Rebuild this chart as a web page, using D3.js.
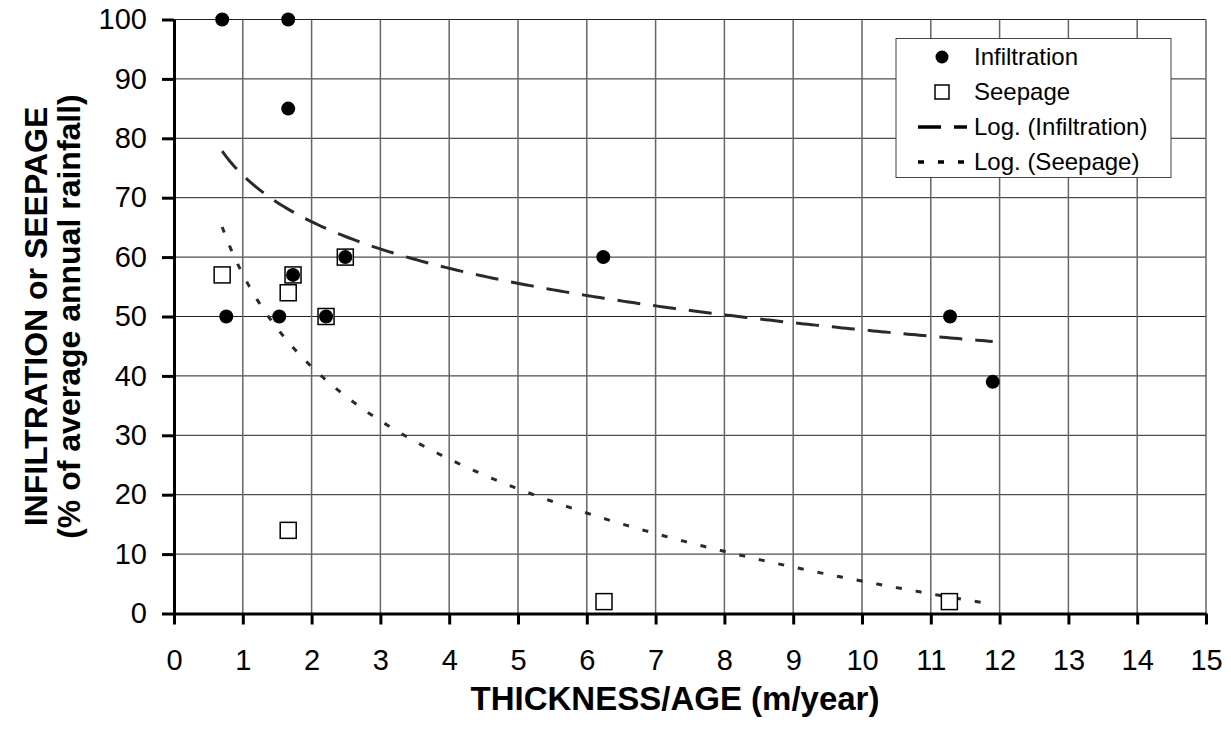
<!DOCTYPE html>
<html>
<head>
<meta charset="utf-8">
<script src="https://cdn.jsdelivr.net/npm/d3@7"></script>
<style>
  body { margin: 0; background: #fff; }
  svg { display: block; font-family: "Liberation Sans", Arial, sans-serif; }
</style>
</head>
<body>
<svg id="chart" width="1231" height="729"></svg>
<script>
const width = 1231, height = 729;
const margin = {top: 19, right: 25, bottom: 116, left: 174};

// Infiltration points
const infX = [0.7, 1.66, 1.66, 0.76, 1.53, 1.73, 2.21, 2.49, 6.24, 11.28, 11.9];
const infY = [100, 100, 85, 50, 50, 57, 50, 60, 60, 50, 39];
// Seepage points
const seepX = [0.7, 1.66, 1.73, 2.21, 2.49, 1.66, 6.25, 11.27];
const seepY = [57, 54, 57, 50, 60, 14, 2, 2];

const xTicks = d3.range(0, 16, 1);
const yTicks = d3.range(0, 101, 10);
const legendLabels = ["Infiltration", "Seepage", "Log. (Infiltration)", "Log. (Seepage)"];

const svg = d3.select("#chart");

const x = d3.scaleLinear().domain([0, 15]).range([margin.left, width - margin.right]);
const y = d3.scaleLinear().domain([0, 100]).range([height - margin.bottom + 0.5, margin.top + 0.5]);

// least squares fit of y = a*ln(x) + b, like Excel's log trendline
function logFit(xs, ys) {
    const L = xs.map(Math.log);
    const lm = d3.mean(L), ym = d3.mean(ys);
    let sxy = 0, sxx = 0;
    L.forEach((l, i) => { sxy += (l - lm) * (ys[i] - ym); sxx += (l - lm) * (l - lm); });
    const a = sxy / sxx;
    return {a: a, b: ym - a * lm};
}

// gridlines
svg.append("g").selectAll("line")
    .data(yTicks.filter(d => d > 0))
    .enter().append("line")
    .attr("x1", x(0)).attr("x2", x(15))
    .attr("y1", d => y(d)).attr("y2", d => y(d))
    .attr("stroke", "#222").attr("stroke-width", 1);

svg.append("g").selectAll("line")
    .data(xTicks.filter(d => d > 0))
    .enter().append("line")
    .attr("x1", d => x(d)).attr("x2", d => x(d))
    .attr("y1", y(0)).attr("y2", y(100))
    .attr("stroke", "#666").attr("stroke-width", 1.5);

// trendlines
const ext = d3.extent(infX.concat(seepX));
const line = d3.line().x(d => x(d[0])).y(d => y(d[1]));

function trend(xs, ys, dash, w) {
    const f = logFit(xs, ys);
    const pts = d3.range(0, 201).map(i => {
        const v = ext[0] + (ext[1] - ext[0]) * i / 200;
        return [v, f.a * Math.log(v) + f.b];
    });
    svg.append("path")
        .attr("d", line(pts))
        .attr("fill", "none")
        .attr("stroke", "#2a2a2a")
        .attr("stroke-width", w)
        .attr("stroke-dasharray", dash);
}
trend(infX, infY, "23,13", 3);
trend(seepX, seepY, "6,14", 3);

// axes
const xAxis = svg.append("g")
    .attr("transform", `translate(0,${y(0)})`)
    .call(d3.axisBottom(x).tickValues(xTicks).tickSizeInner(11).tickSizeOuter(0).tickPadding(25).tickFormat(d3.format("d")));
const yAxis = svg.append("g")
    .attr("transform", `translate(${x(0)},0)`)
    .call(d3.axisLeft(y).tickValues(yTicks).tickSizeInner(12).tickSizeOuter(0).tickPadding(15).tickFormat(d3.format("d")));

[xAxis, yAxis].forEach(g => {
    g.select(".domain").attr("stroke", "#000").attr("stroke-width", 3);
    g.selectAll(".tick line").attr("stroke", "#000").attr("stroke-width", 3);
    g.selectAll(".tick text")
        .attr("fill", "#000")
        .style("font-size", "29px")
        .style("font-family", "'Liberation Sans', Arial, sans-serif");
});

// seepage squares
const sq = 16;
svg.append("g").selectAll("rect")
    .data(seepX.map((v, i) => [v, seepY[i]]))
    .enter().append("rect")
    .attr("x", d => x(d[0]) - sq / 2)
    .attr("y", d => y(d[1]) - sq / 2)
    .attr("width", sq).attr("height", sq)
    .attr("fill", "#fff")
    .attr("stroke", "#000")
    .attr("stroke-width", 1.5);

// infiltration dots
svg.append("g").selectAll("circle")
    .data(infX.map((v, i) => [v, infY[i]]))
    .enter().append("circle")
    .attr("cx", d => x(d[0]))
    .attr("cy", d => y(d[1]))
    .attr("r", 7)
    .attr("fill", "#000");

// axis titles
svg.append("text")
    .attr("x", 675)
    .attr("y", 710)
    .attr("text-anchor", "middle")
    .style("font-size", "33px")
    .style("font-weight", "bold")
    .text("THICKNESS/AGE (m/year)");

const yMid = (y(0) + y(100)) / 2;
svg.append("text")
    .attr("transform", `translate(47,${yMid}) rotate(-90)`)
    .attr("text-anchor", "middle")
    .style("font-size", "32px")
    .style("font-weight", "bold")
    .text("INFILTRATION or SEEPAGE");
svg.append("text")
    .attr("transform", `translate(80,${yMid}) rotate(-90)`)
    .attr("text-anchor", "middle")
    .style("font-size", "32px")
    .style("font-weight", "bold")
    .text("(% of average annual rainfall)");

// legend
const lg = svg.append("g");
lg.append("rect")
    .attr("x", 896).attr("y", 38.5)
    .attr("width", 275).attr("height", 139)
    .attr("fill", "#fff")
    .attr("stroke", "#444")
    .attr("stroke-width", 1);

const rowY = i => 57 + i * 35;
lg.append("circle").attr("cx", 942).attr("cy", rowY(0)).attr("r", 6.5).attr("fill", "#000");
lg.append("rect").attr("x", 935).attr("y", rowY(1) - 7).attr("width", 14).attr("height", 14)
    .attr("fill", "#fff").attr("stroke", "#000").attr("stroke-width", 1.5);
lg.append("line").attr("x1", 918).attr("x2", 967).attr("y1", rowY(2)).attr("y2", rowY(2))
    .attr("stroke", "#000").attr("stroke-width", 3.5).attr("stroke-dasharray", "23,13");
lg.append("line").attr("x1", 918).attr("x2", 967).attr("y1", rowY(3)).attr("y2", rowY(3))
    .attr("stroke", "#000").attr("stroke-width", 3.5).attr("stroke-dasharray", "6,14");

lg.selectAll("text.lbl")
    .data(legendLabels)
    .enter().append("text")
    .attr("class", "lbl")
    .attr("x", 974)
    .attr("y", (d, i) => rowY(i))
    .attr("dy", "0.35em")
    .style("font-size", "24px")
    .text(d => d);
</script>
</body>
</html>
